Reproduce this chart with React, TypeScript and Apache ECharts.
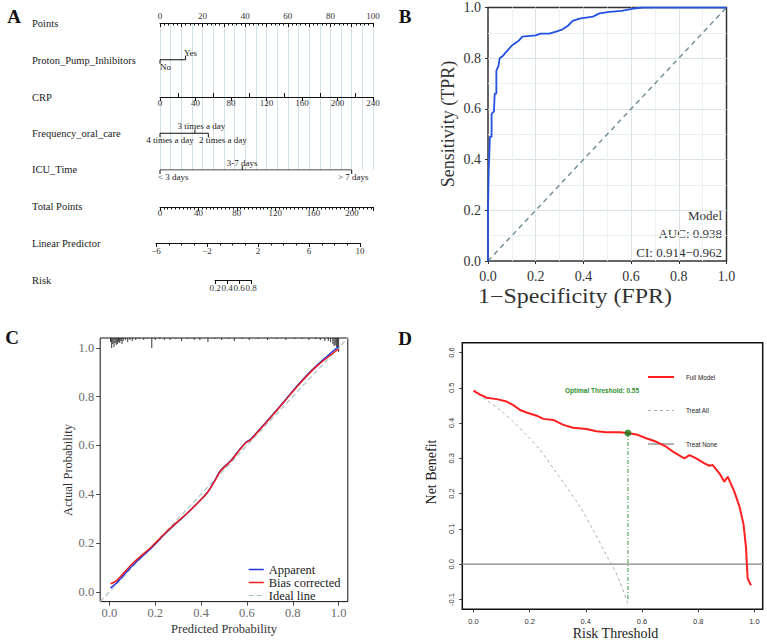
import React, { useEffect, useRef } from "react";
import * as echarts from "echarts";

const SERIF = "'Liberation Serif','Times New Roman',serif";
const SANS = "'Liberation Sans',Arial,sans-serif";

// ---------------- Panel A : nomogram ----------------
const rowNames = ["Points", "Proton_Pump_Inhibitors", "CRP", "Frequency_oral_care", "ICU_Time", "Total Points", "Linear Predictor", "Risk"];
const ppiLevels = ["No", "Yes"];
const ppiPoints = [0, 12];
const freqLevels = ["4 times a day", "3 times a day", "2 times a day"];
const freqPoints = [0, 16.4, 22.7];
const icuLevels = ["< 3 days", "3-7 days", "> 7 days"];
const icuPoints = [0, 38.6, 90];
const pointsRange = [0, 100];
const crpRange = [0, 240];
const crpMinorTicks = [20, 60, 100, 140, 180, 220];
const totalRange = [0, 222];
const lpRange = [-6, 10];
const riskRange = [0.2, 0.8];

// ---------------- Panel B : ROC ----------------
const rocFpr = [0, 0, 0.003, 0.008, 0.015, 0.015, 0.025, 0.028, 0.035, 0.035, 0.044, 0.049, 0.063, 0.072, 0.086, 0.1, 0.13, 0.144, 0.2, 0.22, 0.257, 0.285, 0.313, 0.334, 0.355, 0.383, 0.44, 0.467, 0.51, 0.56, 0.61, 0.65, 1.0];
const rocTpr = [0, 0.2, 0.35, 0.49, 0.49, 0.58, 0.59, 0.66, 0.66, 0.75, 0.77, 0.8, 0.81, 0.82, 0.835, 0.85, 0.87, 0.885, 0.89, 0.897, 0.897, 0.905, 0.914, 0.927, 0.947, 0.956, 0.964, 0.977, 0.983, 0.987, 0.996, 1.0, 1.0];
const chanceX = [0, 1];
const chanceY = [0, 1];
const rocTexts = ["Model", "AUC: 0.938", "CI: 0.914\u22120.962"];

// ---------------- Panel C : calibration ----------------
const calPred = [0.005, 0.03, 0.1, 0.19, 0.25, 0.34, 0.4, 0.43, 0.455, 0.485, 0.53, 0.57, 0.595, 0.615, 0.65, 0.69, 0.76, 0.83, 0.905, 1.0];
const calBias = [0.033, 0.045, 0.115, 0.19, 0.247, 0.323, 0.378, 0.41, 0.446, 0.495, 0.536, 0.584, 0.611, 0.622, 0.658, 0.7, 0.776, 0.853, 0.925, 0.995];
const calApparent = [0.016, 0.035, 0.107, 0.186, 0.244, 0.322, 0.378, 0.41, 0.448, 0.497, 0.538, 0.585, 0.612, 0.624, 0.66, 0.702, 0.778, 0.856, 0.928, 1.005];
const idealX = [-0.04, 1.04];
const idealY = [-0.04, 1.04];
const calTicks = [0, 0.2, 0.4, 0.6, 0.8, 1.0];
const rugX = [0.005, 0.01, 0.015, 0.02, 0.025, 0.03, 0.035, 0.04, 0.045, 0.05, 0.055, 0.06, 0.07, 0.08, 0.09, 0.1, 0.115, 0.13, 0.15, 0.165, 0.185, 0.2, 0.22, 0.24, 0.265, 0.29, 0.315, 0.34, 0.37, 0.395, 0.43, 0.46, 0.49, 0.52, 0.545, 0.58, 0.61, 0.65, 0.69, 0.73, 0.77, 0.81, 0.84, 0.87, 0.9, 0.92, 0.94, 0.955, 0.965, 0.975, 0.98, 0.985, 0.99, 0.995, 1.0];
const rugN = [4, 10, 6, 9, 5, 7, 6, 4, 5, 3, 6, 3, 2, 4, 2, 3, 2, 1, 2, 1, 10, 2, 1, 2, 2, 1, 3, 1, 2, 2, 4, 1, 2, 1, 3, 1, 2, 1, 2, 1, 2, 1, 1, 2, 1, 2, 3, 3, 4, 6, 8, 7, 9, 10, 14];

// ---------------- Panel D : decision curve ----------------
const dcaThr = [0, 0.024, 0.047, 0.083, 0.118, 0.142, 0.166, 0.189, 0.225, 0.249, 0.284, 0.32, 0.355, 0.402, 0.438, 0.473, 0.521, 0.547, 0.58, 0.615, 0.651, 0.686, 0.71, 0.74, 0.751, 0.769, 0.793, 0.822, 0.84, 0.852, 0.876, 0.893, 0.905, 0.929, 0.947, 0.961, 0.97, 0.976, 0.988];
const dcaModel = [0.492, 0.481, 0.472, 0.468, 0.461, 0.451, 0.437, 0.43, 0.421, 0.412, 0.409, 0.395, 0.387, 0.383, 0.377, 0.374, 0.374, 0.372, 0.368, 0.357, 0.347, 0.333, 0.319, 0.305, 0.3, 0.309, 0.3, 0.286, 0.279, 0.281, 0.257, 0.234, 0.248, 0.205, 0.163, 0.115, 0.049, -0.041, -0.06];
const treatAllThr = [0, 0.047, 0.095, 0.142, 0.189, 0.237, 0.284, 0.331, 0.379, 0.426, 0.473, 0.497, 0.521, 0.55];
const treatAllNB = [0.492, 0.465, 0.437, 0.404, 0.366, 0.324, 0.272, 0.219, 0.163, 0.097, 0.026, -0.008, -0.05, -0.112];
const treatNoneThr = [-0.04, 1.03];
const treatNoneNB = [0, 0];
const optThreshold = 0.55;
const optNB = 0.372;
const optLineBottom = -0.102;
const dcaXTicks = [0, 0.2, 0.4, 0.6, 0.8, 1.0];
const dcaYTicks = [-0.1, 0, 0.1, 0.2, 0.3, 0.4, 0.5, 0.6];

// ---------------- layout / style (not data) ----------------
const rowNameY = [23, 60, 97, 133, 169, 206, 243, 280];
const catStyle = {
  ppi: { side: [-1, 1], dx: [0, 5], align: ["left", "center"] },
  freq: { side: [-1, 1, -1], dx: [10, 6.5, 14.5], align: ["center", "center", "center"] },
  icu: { side: [-1, 1, -1], dx: [-2, 0, 1.5], align: ["left", "center", "center"] },
};

const zip = (a: number[], b: number[]) => a.map((v, i) => [v, b[i]]);
const fmt1 = (v: number) => v.toFixed(1);

export default function App() {
  const ref = useRef<HTMLDivElement>(null);
  useEffect(() => {
    document.body.style.margin = "0";
    if (!ref.current) return;
    const chart = echarts.init(ref.current, undefined, { renderer: "svg" });

    const catItems: any[] = [];
    ppiLevels.forEach((l, i) => catItems.push({ name: l, x: ppiPoints[i], row: 1, side: catStyle.ppi.side[i], dx: catStyle.ppi.dx[i], align: catStyle.ppi.align[i] }));
    freqLevels.forEach((l, i) => catItems.push({ name: l, x: freqPoints[i], row: 3, side: catStyle.freq.side[i], dx: catStyle.freq.dx[i], align: catStyle.freq.align[i] }));
    icuLevels.forEach((l, i) => catItems.push({ name: l, x: icuPoints[i], row: 4, side: catStyle.icu.side[i], dx: catStyle.icu.dx[i], align: catStyle.icu.align[i] }));

    const rowLine = (pts: number[], row: number) => ({
      type: "line", xAxisIndex: 1, yAxisIndex: 0, silent: true, symbol: "none",
      data: [[Math.min(...pts), row], [Math.max(...pts), row]],
      lineStyle: { color: "#111", width: 1 }, z: 3,
    });

    const nomoAxis = (gridIndex: number, min: number, max: number, interval: number, extra: any = {}) => ({
      type: "value", gridIndex, position: "bottom", min, max, interval,
      axisLine: { show: true, onZero: false, lineStyle: { color: "#111", width: 1 } },
      axisTick: { show: true, length: 4, lineStyle: { color: "#111", width: 1 } },
      axisLabel: { show: true, margin: 1.5, fontSize: 9, color: "#333", fontFamily: SERIF },
      splitLine: { show: false },
      ...extra,
    });

    const hiddenY = (gridIndex: number) => ({ type: "value", gridIndex, min: 0, max: 1, show: false, splitLine: { show: false } });

    const frameAxis = (gridIndex: number, min: number, max: number, o: any) => ({
      type: "value", gridIndex, min, max,
      axisLine: { show: false, onZero: false },
      splitLine: { show: false },
      ...o,
    });

    const text = (t: string, x: number, y: number, s: any = {}, extra: any = {}) => ({
      type: "text", x, y, silent: true, ...extra,
      style: {
        text: t, fill: s.fill || "#222", fontSize: s.fontSize || 10.5, fontFamily: s.fontFamily || SERIF,
        fontWeight: s.fontWeight || "normal",
        align: s.align || "left", textAlign: s.align || "left",
        verticalAlign: "middle", textVerticalAlign: "middle",
      },
    });

    const graphic: any[] = [
      text("A", 14, 16, { fontSize: 19, fontWeight: "bold", align: "center", fill: "#111" }),
      text("B", 405, 16, { fontSize: 19, fontWeight: "bold", align: "center", fill: "#111" }),
      text("C", 12, 337, { fontSize: 19, fontWeight: "bold", align: "center", fill: "#111" }),
      text("D", 405, 338, { fontSize: 19, fontWeight: "bold", align: "center", fill: "#111" }),
      ...rowNames.map((n, i) => text(n, 32, rowNameY[i], { fontSize: 10.5 })),
      ...rocTexts.map((t, i) => text(t, 722, 215 + i * 18.5, { fontSize: 13, align: "right", fill: "#333" })),
      text("Sensitivity (TPR)", 448, 124, { fontSize: 18, align: "center", fill: "#333" }, { rotation: Math.PI / 2 }),
      text("1\u2212Specificity (FPR)", 575, 296, { fontSize: 20, align: "center", fill: "#333" }, { scaleX: 1.2 }),
      text("Actual Probability", 68, 470, { fontSize: 12.5, align: "center", fill: "#333" }, { rotation: Math.PI / 2 }),
      text("Predicted Probability", 224, 629, { fontSize: 12.5, align: "center", fill: "#333" }),
      text("Net Benefit", 431.5, 472, { fontSize: 14, align: "center", fill: "#222" }, { rotation: Math.PI / 2 }),
      text("Risk Threshold", 615.5, 633, { fontSize: 14, align: "center", fill: "#222" }),
      text("Optimal Threshold: 0.55", 602, 390, { fontSize: 6.5, fontFamily: SANS, fontWeight: "bold", align: "center", fill: "#2f8f2f" }),
    ];

    const option: any = {
      animation: false,
      backgroundColor: "#fff",
      textStyle: { fontFamily: SERIF },
      grid: [
        { left: 160, top: 23, width: 213, height: 147, outerBoundsMode: "none" },
        { left: 160, top: 96, width: 213, height: 1, outerBoundsMode: "none" },
        { left: 160, top: 206, width: 213, height: 1, outerBoundsMode: "none" },
        { left: 156, top: 242, width: 204, height: 1, outerBoundsMode: "none" },
        { left: 215, top: 279, width: 36, height: 1, outerBoundsMode: "none" },
        { left: 488, top: 7.5, width: 238.5, height: 253.5, show: true, borderColor: "#333", borderWidth: 1.5, outerBoundsMode: "none" },
        { left: 100.2, top: 338, width: 247.6, height: 263.6, show: true, borderColor: "#111", borderWidth: 1, outerBoundsMode: "none" },
        { left: 462.3, top: 342.7, width: 300.4, height: 266.6, show: true, borderColor: "#111", borderWidth: 1.5, outerBoundsMode: "none" },
      ],
      xAxis: [
        // 0: vertical reference lines for panel A
        {
          type: "value", gridIndex: 0, position: "top", min: pointsRange[0], max: pointsRange[1], interval: 5,
          axisLine: { show: false, onZero: false }, axisTick: { show: false }, axisLabel: { show: false },
          splitLine: { show: true, lineStyle: { color: "#d2e1e7", width: 1 } },
        },
        // 1: Points
        {
          type: "value", gridIndex: 0, position: "top", min: pointsRange[0], max: pointsRange[1], interval: 10,
          axisLine: { show: true, onZero: false, lineStyle: { color: "#111", width: 1 } },
          axisTick: { show: true, inside: true, length: 4, lineStyle: { color: "#111" } },
          minorTick: { show: true, splitNumber: 5, length: 2.5, lineStyle: { color: "#111" } },
          axisLabel: { show: true, margin: 3, fontSize: 9, color: "#333", fontFamily: SERIF, formatter: (v: number) => (v % 20 === 0 ? String(v) : "") },
          splitLine: { show: false },
        },
        // 2,3: CRP
        nomoAxis(1, crpRange[0], crpRange[1], 40),
        nomoAxis(1, crpRange[0], crpRange[1], 20, {
          axisLine: { show: false, onZero: false },
          axisTick: { show: true, inside: true, length: 4, customValues: crpMinorTicks, lineStyle: { color: "#111" } },
          axisLabel: { show: false },
        }),
        // 4: Total points
        nomoAxis(2, totalRange[0], totalRange[1], 40, {
          minorTick: { show: true, splitNumber: 10, length: 2.5, lineStyle: { color: "#111" } },
          axisLabel: { show: true, margin: 1.5, fontSize: 9, color: "#333", fontFamily: SERIF, showMaxLabel: false },
        }),
        // 5: Linear predictor
        nomoAxis(3, lpRange[0], lpRange[1], 4, {
          minorTick: { show: true, splitNumber: 4, length: 2.5, lineStyle: { color: "#111" } },
          axisLabel: { show: true, margin: 3, fontSize: 9, color: "#333", fontFamily: SERIF, formatter: (v: number) => (v < 0 ? "\u2212" + -v : String(v)) },
        }),
        // 6: Risk
        nomoAxis(4, riskRange[0], riskRange[1], 0.2, {
          axisLabel: { show: true, margin: 3, fontSize: 9, color: "#333", fontFamily: SERIF, formatter: fmt1 },
        }),
        // 7: ROC x
        frameAxis(5, 0, 1, {
          interval: 0.2,
          axisTick: { show: true, length: 3, lineStyle: { color: "#333", width: 1 } },
          axisLabel: { margin: 8, fontSize: 14, color: "#333", fontFamily: SERIF, formatter: fmt1 },
          splitLine: { show: true, showMinLine: false, showMaxLine: false, lineStyle: { color: "#d9e3e8", width: 1 } },
          minorTick: { show: false, splitNumber: 2 },
          minorSplitLine: { show: true, lineStyle: { color: "#ebf0f3", width: 1 } },
        }),
        // 8: calibration x
        frameAxis(6, -0.04, 1.04, {
          axisTick: { show: true, length: 4, customValues: calTicks, lineStyle: { color: "#444" } },
          axisLabel: { margin: 5, fontSize: 12.5, color: "#6b6b6b", fontFamily: SERIF, customValues: calTicks, formatter: fmt1 },
        }),
        // 9: DCA x
        frameAxis(7, -0.0396, 1.0296, {
          axisTick: { show: true, length: 3, customValues: dcaXTicks, lineStyle: { color: "#333" } },
          axisLabel: { margin: 8, fontSize: 7.5, color: "#333", fontFamily: SANS, customValues: dcaXTicks, formatter: fmt1 },
        }),
      ],
      yAxis: [
        { type: "value", gridIndex: 0, min: 0, max: 4, inverse: true, show: false, splitLine: { show: false } },
        hiddenY(1), hiddenY(2), hiddenY(3), hiddenY(4),
        frameAxis(5, 0, 1, {
          interval: 0.2,
          axisTick: { show: true, length: 3, lineStyle: { color: "#333", width: 1 } },
          axisLabel: { margin: 7, fontSize: 14, color: "#333", fontFamily: SERIF, formatter: fmt1 },
          splitLine: { show: true, showMinLine: false, showMaxLine: false, lineStyle: { color: "#d9e3e8", width: 1 } },
          minorTick: { show: false, splitNumber: 2 },
          minorSplitLine: { show: true, lineStyle: { color: "#ebf0f3", width: 1 } },
        }),
        frameAxis(6, -0.04, 1.04, {
          axisTick: { show: true, length: 4, customValues: calTicks, lineStyle: { color: "#444" } },
          axisLabel: { margin: 6, fontSize: 12.5, color: "#6b6b6b", fontFamily: SERIF, customValues: calTicks, formatter: fmt1 },
        }),
        frameAxis(7, -0.128, 0.628, {
          axisTick: { show: true, length: 3, customValues: dcaYTicks, lineStyle: { color: "#333" } },
          axisLabel: { margin: 7, fontSize: 7.5, color: "#333", fontFamily: SANS, rotate: 90, customValues: dcaYTicks, formatter: fmt1 },
        }),
      ],
      legend: [
        {
          data: ["Apparent", "Bias corrected", "Ideal line"], orient: "vertical", left: 248, top: 563,
          itemWidth: 15, itemHeight: 8, itemGap: 0, padding: 0, selectedMode: false,
          textStyle: { fontFamily: SERIF, fontSize: 12.5, color: "#222", lineHeight: 11.5 },
          lineStyle: { width: "inherit" },
          itemStyle: { opacity: 0, borderWidth: 0 },
        },
        {
          data: ["Full Model", "Treat All", "Treat None"], orient: "vertical", left: 647, top: 373,
          itemWidth: 26, itemHeight: 10, itemGap: 25.5, padding: 0, selectedMode: false,
          textStyle: { fontFamily: SANS, fontSize: 6.3, color: "#222", padding: [0, 0, 0, 7] },
          lineStyle: { width: "inherit" },
          itemStyle: { opacity: 0, borderWidth: 0 },
        },
      ],
      graphic,
      series: [
        // ---- Panel A ----
        rowLine(ppiPoints, 1),
        rowLine(freqPoints, 3),
        rowLine(icuPoints, 4),
        {
          type: "custom", xAxisIndex: 1, yAxisIndex: 0, silent: true, z: 4,
          data: catItems.map((c) => [c.x, c.row]),
          encode: { x: 0, y: 1 },
          renderItem: (params: any, api: any) => {
            const it = catItems[params.dataIndex];
            const p = api.coord([api.value(0), api.value(1)]);
            const up = it.side > 0;
            return {
              type: "group",
              children: [
                { type: "line", shape: { x1: p[0], y1: p[1], x2: p[0], y2: up ? p[1] - 4 : p[1] + 4 }, style: { stroke: "#111", lineWidth: 1 } },
                {
                  type: "text", x: p[0] + it.dx, y: up ? p[1] - 2.5 : p[1] + 2.5,
                  style: {
                    text: it.name, fill: "#222", fontSize: 9, fontFamily: SERIF,
                    align: it.align, textAlign: it.align,
                    verticalAlign: up ? "bottom" : "top", textVerticalAlign: up ? "bottom" : "top",
                  },
                },
              ],
            };
          },
        },
        // ---- Panel B ----
        {
          type: "line", name: "Chance", xAxisIndex: 7, yAxisIndex: 5, silent: true, symbol: "none",
          data: zip(chanceX, chanceY), lineStyle: { color: "#6f8b95", width: 1.4, type: [5, 4] },
        },
        {
          type: "line", name: "ROC", xAxisIndex: 7, yAxisIndex: 5, silent: true, symbol: "none",
          data: zip(rocFpr, rocTpr), lineStyle: { color: "#2452e3", width: 1.8 }, z: 4,
        },
        // ---- Panel C ----
        {
          type: "line", name: "Ideal line", xAxisIndex: 8, yAxisIndex: 6, silent: true, symbol: "none",
          data: zip(idealX, idealY), lineStyle: { color: "#a9c2c9", width: 1.2, type: [5, 3] }, itemStyle: { color: "#a9c2c9" },
        },
        {
          type: "line", name: "Apparent", xAxisIndex: 8, yAxisIndex: 6, silent: true, symbol: "none", smooth: 0.3,
          data: zip(calPred, calApparent), lineStyle: { color: "#2035d8", width: 1.5 }, itemStyle: { color: "#2035d8" },
        },
        {
          type: "line", name: "Bias corrected", xAxisIndex: 8, yAxisIndex: 6, silent: true, symbol: "none", smooth: 0.3,
          data: zip(calPred, calBias), lineStyle: { color: "#ee1c1c", width: 1.5 }, itemStyle: { color: "#ee1c1c" }, z: 4,
        },
        {
          type: "custom", name: "rug", xAxisIndex: 8, yAxisIndex: 6, silent: true,
          data: zip(rugX, rugN), encode: { x: 0, y: 1 },
          renderItem: (params: any, api: any) => {
            const top = api.coord([api.value(0), 1.04]);
            const len = api.value(1);
            return { type: "line", shape: { x1: top[0], y1: top[1], x2: top[0], y2: top[1] + len }, style: { stroke: "#222", lineWidth: 0.9 } };
          },
        },
        // ---- Panel D ----
        {
          type: "line", name: "Treat None", xAxisIndex: 9, yAxisIndex: 7, silent: true, symbol: "none",
          data: zip(treatNoneThr, treatNoneNB), lineStyle: { color: "#808080", width: 1.2 }, itemStyle: { color: "#808080" },
        },
        {
          type: "line", name: "Treat All", xAxisIndex: 9, yAxisIndex: 7, silent: true, symbol: "none", smooth: 0.3,
          data: zip(treatAllThr, treatAllNB), lineStyle: { color: "#a6b0ab", width: 1, type: [3, 3] }, itemStyle: { color: "#a6b0ab" },
        },
        {
          type: "line", name: "Full Model", xAxisIndex: 9, yAxisIndex: 7, silent: true, symbol: "none",
          data: zip(dcaThr, dcaModel), lineStyle: { color: "#ff1f1f", width: 2 }, itemStyle: { color: "#ff1f1f" }, z: 4,
        },
        {
          type: "line", name: "Optimal line", xAxisIndex: 9, yAxisIndex: 7, silent: true, symbol: "none",
          data: [[optThreshold, optNB], [optThreshold, optLineBottom]], lineStyle: { color: "#3a9a3a", width: 1, type: [4, 2, 1, 2] },
        },
        {
          type: "scatter", name: "Optimal point", xAxisIndex: 9, yAxisIndex: 7, silent: true, symbolSize: 7,
          data: [[optThreshold, optNB]], itemStyle: { color: "#1e7a1e" }, z: 5,
        },
      ],
    };

    chart.setOption(option);
    return () => chart.dispose();
  }, []);

  return <div ref={ref} style={{ width: 767, height: 642 }} />;
}
